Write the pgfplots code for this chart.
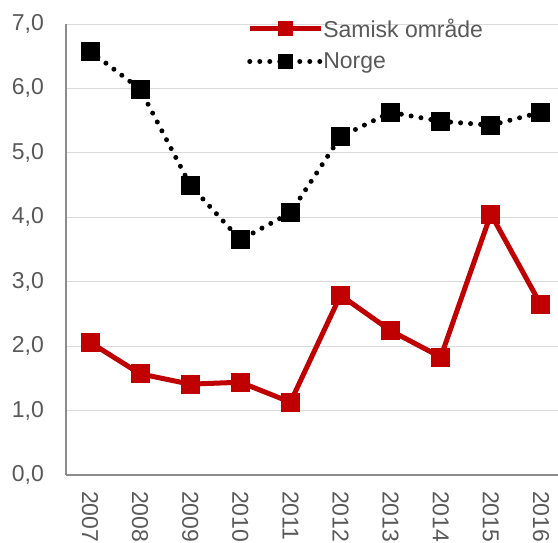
\documentclass[border=0pt]{standalone}
\usepackage{pgfplots}
\pgfplotsset{compat=1.18}
\usepackage{fontspec}
\setmainfont{Liberation Sans}
\definecolor{txt}{HTML}{595959}
\definecolor{sred}{HTML}{C00000}
\definecolor{grd}{HTML}{D9D9D9}
\definecolor{axl}{HTML}{8C8C8C}
\begin{document}
\begin{tikzpicture}
\begin{axis}[
  scale only axis,
  width=492pt, height=451pt,
  xmin=-0.479, xmax=9.34,
  ymin=0, ymax=7,
  xtick={0,...,9},
  xticklabels={2007,2008,2009,2010,2011,2012,2013,2014,2015,2016},
  ytick={0,1,...,7},
  axis x line*=bottom, axis y line*=left,
  axis line style={axl, line width=1.2pt, -},
  major tick length=0pt,
  ymajorgrids, grid style={grd, line width=1pt},
  tick label style={font=\fontsize{23}{23}\selectfont, text=txt},
  yticklabel style={inner sep=0pt, xshift=-22pt},
  xticklabel style={rotate=-90, anchor=west, inner sep=0pt, inner xsep=16pt},
  /pgf/number format/.cd, fixed, fixed zerofill, precision=1, use comma, assume math mode=true,
  /pgfplots/.cd,
  legend style={draw=none, fill=none, at={(rel axis cs:0.368,1.012)}, anchor=north west,
    font=\fontsize{23}{23}\selectfont, text=txt, row sep=14pt, column sep=0pt, inner sep=0pt,
    nodes={inner sep=0pt}},
  legend cell align=left,
  legend image code/.code={\draw[mark repeat=2,mark phase=2,#1,mark size=7pt] plot coordinates {(0pt,0pt) (35.5pt,0pt) (71pt,0pt)};},
  clip=false,
]
\coordinate (o) at (rel axis cs:0,0);
\addplot[sred, line width=5pt, mark=square*, mark size=9pt, mark options={solid, line width=0pt}] coordinates {
(0,2.06) (1,1.57) (2,1.41) (3,1.44) (4,1.13) (5,2.79) (6,2.24) (7,1.83) (8,4.05) (9,2.64)};
\addlegendentry{Samisk område}
\addplot[black, line width=5pt, line cap=round, dash pattern=on 0pt off 10pt, mark=square*, mark size=9pt, mark options={solid, line width=0pt}] coordinates {
(0,6.58) (1,5.99) (2,4.50) (3,3.65) (4,4.07) (5,5.25) (6,5.63) (7,5.49) (8,5.43) (9,5.63)};
\addlegendentry{Norge}
\end{axis}
\pgfresetboundingbox
\path (o) ++(-66pt,-67pt) rectangle ++(558pt,542pt);
\end{tikzpicture}
\end{document}
